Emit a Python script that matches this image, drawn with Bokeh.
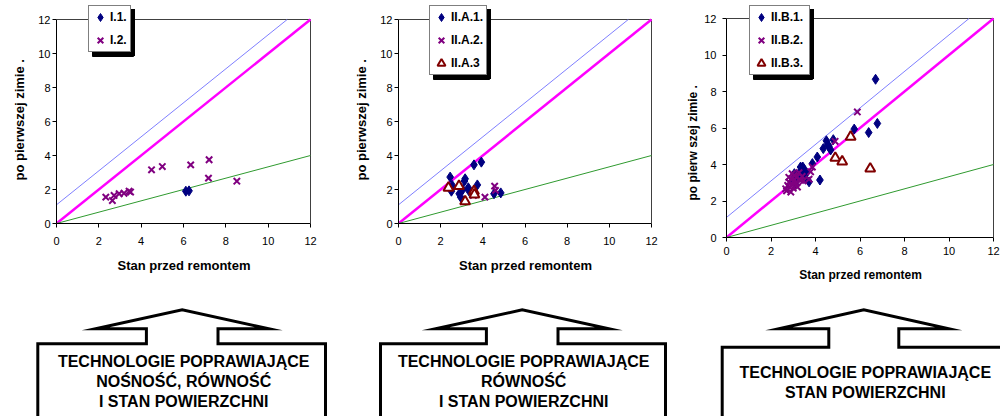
import numpy as np
from bokeh.plotting import figure
from bokeh.models import Range1d, FixedTicker, Legend, LegendItem, Label, Title
from bokeh.layouts import row, column
from bokeh.embed import file_html
from bokeh.resources import INLINE

FONT = "Liberation Sans"
NAVY = "#000080"
PURPLE = "#800080"
DARKRED = "#800000"

# ---------------- data ----------------
ticks = [0, 2, 4, 6, 8, 10, 12]
axis_max = 12
x_title = "Stan przed remontem"
y_titles = ["po pierwszej zimie .", "po pierwszej zimie .", "po pierw szej zimie ."]

upper_shift = 1.1      # upper reference line: y = x + 1.1
lower_ratio = 1 / 3    # lower reference line: y = x / 3

i1_label, i2_label = "I.1.", "I.2."
i1_x = [6.11, 6.26]
i1_y = [1.90, 1.92]
i2_x = [2.33, 2.64, 2.72, 2.96, 3.19, 3.43, 3.50, 4.49, 5.00, 6.34, 7.21, 7.18, 8.52]
i2_y = [1.55, 1.35, 1.65, 1.75, 1.78, 1.90, 1.85, 3.16, 3.35, 3.45, 3.75, 2.67, 2.49]

iia1_label, iia2_label, iia3_label = "II.A.1.", "II.A.2.", "II.A.3"
iia1_x = [2.45, 3.16, 3.13, 3.58, 3.93, 3.74, 3.31, 3.34, 2.55, 2.51, 2.88, 2.95, 4.53, 4.85, 3.05]
iia1_y = [2.73, 2.63, 2.50, 3.45, 3.61, 2.27, 2.10, 1.92, 2.24, 1.90, 1.75, 1.55, 1.75, 1.80, 2.00]
iia2_x = [3.55, 4.10, 4.56, 4.60]
iia2_y = [1.65, 1.55, 2.20, 1.95]
iia3_x = [2.37, 2.87, 3.16, 3.58, 3.60]
iia3_y = [2.10, 2.20, 1.30, 1.90, 1.70]

iib1_label, iib2_label, iib3_label = "II.B.1.", "II.B.2.", "II.B.3."
iib1_x = [6.70, 6.78, 6.39, 5.74, 4.80, 4.49, 4.55, 4.35, 4.68, 4.60, 4.08, 3.86, 4.20,
          3.33, 3.43, 3.50, 3.60, 3.71, 3.05, 3.20, 3.40, 2.95, 3.10, 3.55, 3.30]
iib1_y = [8.67, 6.25, 5.75, 5.94, 5.36, 5.30, 5.10, 4.87, 4.80, 5.00, 4.41, 4.05, 3.15,
          3.86, 3.86, 3.70, 3.55, 3.05, 3.50, 3.30, 3.30, 3.10, 2.90, 3.20, 3.60]
iib2_x = [5.88, 4.88, 3.86, 3.78, 3.71, 2.66, 2.81, 3.03, 2.89, 3.19, 3.33, 2.75, 2.90,
          3.10, 3.26, 2.70, 2.95, 3.00, 2.85, 3.05, 2.80, 3.15, 2.95, 3.45, 3.40]
iib2_y = [6.88, 5.27, 3.86, 3.60, 3.20, 2.67, 3.04, 3.40, 2.49, 2.76, 3.13, 2.85, 3.20,
          3.00, 3.55, 2.55, 2.90, 2.70, 2.75, 3.15, 3.30, 3.30, 3.50, 3.10, 3.35]
iib3_x = [5.58, 4.89, 5.20, 6.46]
iib3_y = [5.52, 4.36, 4.16, 3.77]

arrow_texts = [
    ["TECHNOLOGIE POPRAWIAJĄCE", "NOŚNOŚĆ, RÓWNOŚĆ", "I STAN POWIERZCHNI"],
    ["TECHNOLOGIE POPRAWIAJĄCE", "RÓWNOŚĆ", "I STAN POWIERZCHNI"],
    ["TECHNOLOGIE POPRAWIAJĄCE", "STAN POWIERZCHNI"],
]


def make_panel(width, height, area_left, area_top, area_w, area_h, frame_top,
               series, y_title, leg_loc, title_fs, tick_fs,
               xl_stand, xt_stand, yl_stand, yt_stand, yt_offset, label_w):
    # frame extends above the plot area so that the legend box can overhang it
    extra_top = area_top - frame_top
    y_end = axis_max * (1 + extra_top / area_h)
    x_end = axis_max * (1 + 1.0 / area_w)
    bl = area_left
    br = width - area_left - area_w - 1
    bb = height - area_top - area_h
    p = figure(width=width, height=height, min_border_left=bl, min_border_right=br,
               min_border_top=frame_top, min_border_bottom=bb,
               x_range=Range1d(0, x_end), y_range=Range1d(0, y_end),
               output_backend="svg", toolbar_location=None, tools="")
    p.grid.visible = False
    p.outline_line_color = None
    p.background_fill_color = "white"
    p.border_fill_color = "white"

    for ax in (p.xaxis[0], p.yaxis[0]):
        ax.ticker = FixedTicker(ticks=ticks)
        ax.bounds = (0, axis_max)
        ax.major_tick_in = 0
        ax.major_tick_out = 4
        ax.minor_tick_in = 0
        ax.minor_tick_out = 0
        ax.axis_line_color = "black"
        ax.major_tick_line_color = "black"
        ax.major_label_text_font = FONT
        ax.major_label_text_font_size = tick_fs
        ax.major_label_text_color = "black"
        ax.axis_label_text_font = FONT
        ax.axis_label_text_font_size = title_fs
        ax.axis_label_text_font_style = "bold"
        ax.axis_label_text_color = "black"
    p.xaxis.axis_label = x_title
    p.xaxis.major_label_standoff = xl_stand
    p.xaxis.axis_label_standoff = xt_stand
    p.yaxis.major_label_standoff = yl_stand
    p.add_layout(Title(text=y_title, align="left", offset=yt_offset, standoff=yt_stand,
                       text_font=FONT, text_font_size=title_fs, text_font_style="bold",
                       text_color="black"), "left")

    # plot-area border (top and right)
    p.line([0, axis_max, axis_max], [axis_max, axis_max, 0], line_color="#404040", line_width=1)

    # reference lines
    p.line([0, axis_max - upper_shift], [upper_shift, axis_max], line_color="#7f7fff", line_width=1)
    p.line([0, axis_max], [0, axis_max], line_color="#ff00ff", line_width=2.5)
    p.line([0, axis_max], [0, axis_max * lower_ratio], line_color="#2f9a2f", line_width=1)

    # legend box geometry (pixels) -> drop shadow as a rect in data units
    pad, gw, gh, stand, spacing = 1, 20, 20, 0, 3
    n = len(series)
    leg_w = 2 * pad + gw + stand + label_w
    leg_h = 2 * pad + n * gh + (n - 1) * spacing
    sx = area_w / axis_max
    sy = area_h / axis_max
    lx0, ly0 = leg_loc
    sh = 4
    p.rect(x=[(lx0 + leg_w / 2 + sh) / sx], y=[(ly0 + leg_h / 2 - sh) / sy],
           width=[leg_w / sx], height=[leg_h / sy],
           fill_color="black", fill_alpha=1, line_color="black")

    rends = []
    items = []
    for label, xs, ys, kind in series:
        if kind == "diamond":
            r = p.scatter(xs, ys, marker="diamond", size=10, fill_color=NAVY, line_color=NAVY)
        elif kind == "x":
            r = p.scatter(xs, ys, marker="x", size=9, line_color=PURPLE, line_width=2)
        else:
            r = p.scatter(xs, ys, marker="triangle", size=10, fill_color="white",
                          line_color=DARKRED, line_width=2)
        rends.append(r)
        items.append(LegendItem(label=label, renderers=[r]))

    common = dict(padding=pad, margin=0, spacing=spacing,
                  glyph_width=gw, glyph_height=gh, label_height=gh, label_width=label_w,
                  label_standoff=stand, label_text_font=FONT, label_text_font_size="12px",
                  label_text_font_style="bold", label_text_baseline="middle",
                  border_line_width=1, background_fill_alpha=1)
    # shadow box: same-size legend, offset, filled black (sits behind the real legend)
    shadow = Legend(items=[LegendItem(label=" ", renderers=[r]) for r in rends],
                    location=(lx0 + sh, ly0 - sh), label_text_color="black",
                    border_line_color="black", background_fill_color="black", **common)
    p.add_layout(shadow, "center")
    legend = Legend(items=items, location=leg_loc, label_text_color="black",
                    border_line_color="black", background_fill_color="white", **common)
    p.add_layout(legend, "center")
    return p


p1 = make_panel(340, 300, 56, 19, 254, 204, 4,
                [(i1_label, i1_x, i1_y, "diamond"), (i2_label, i2_x, i2_y, "x")],
                y_titles[0], (32, 171), "13px", "11px", 9, 10, 2, 17, 43, 19)
p2 = make_panel(330, 300, 58, 19, 253, 204, 4,
                [(iia1_label, iia1_x, iia1_y, "diamond"), (iia2_label, iia2_x, iia2_y, "x"),
                 (iia3_label, iia3_x, iia3_y, "triangle")],
                y_titles[1], (31, 148), "13px", "11px", 9, 10, 2, 17, 43, 34)
p3 = make_panel(330, 300, 56, 18, 267, 219, 4,
                [(iib1_label, iib1_x, iib1_y, "diamond"), (iib2_label, iib2_x, iib2_y, "x"),
                 (iib3_label, iib3_x, iib3_y, "triangle")],
                y_titles[2], (23, 162), "12px", "11px", 5, 10, 6, 4, 37, 37)

# ---------------- arrows ----------------
pa = figure(width=1000, height=116, x_range=Range1d(0, 1000), y_range=Range1d(416, 300),
            min_border=0, x_axis_type=None, y_axis_type=None,
            output_backend="svg", toolbar_location=None, tools="")
pa.grid.visible = False
pa.outline_line_color = None

arrow_geom = [
    # cx, apex_y, head_hw, head_base_y, stem_hw, box_top, box_left, box_right, text_ys
    (181.7, 309.3, 86.7, 328.3, 35.8, 343.3, 37.3, 325.0, [361, 381, 401]),
    (521.7, 309.3, 86.7, 328.3, 35.8, 343.3, 380.0, 665.0, [361, 381, 401]),
    (863.3, 309.3, 85.0, 328.3, 35.0, 346.7, 721.7, 1010.0, [371.5, 391.5]),
]
for (cx, ay, hhw, hby, shw, bt, bl, br, tys), lines in zip(arrow_geom, arrow_texts):
    xs = [bl, bl, cx - shw, cx - shw, cx - hhw, cx, cx + hhw, cx + shw, cx + shw, br, br]
    ys = [430, bt, bt, hby, hby, ay, hby, hby, bt, bt, 430]
    pa.line(xs, ys, line_color="black", line_width=3, line_join="miter")
    for t, ty in zip(lines, tys):
        pa.add_layout(Label(x=cx + 1.5, y=ty, text=t, text_align="center", text_baseline="middle",
                            text_font=FONT, text_font_size="16px", text_font_style="bold",
                            text_color="black"))

layout = column(row(column(p1), column(p2), column(p3)), pa)
open("out.html", "w").write(file_html(layout, INLINE))
